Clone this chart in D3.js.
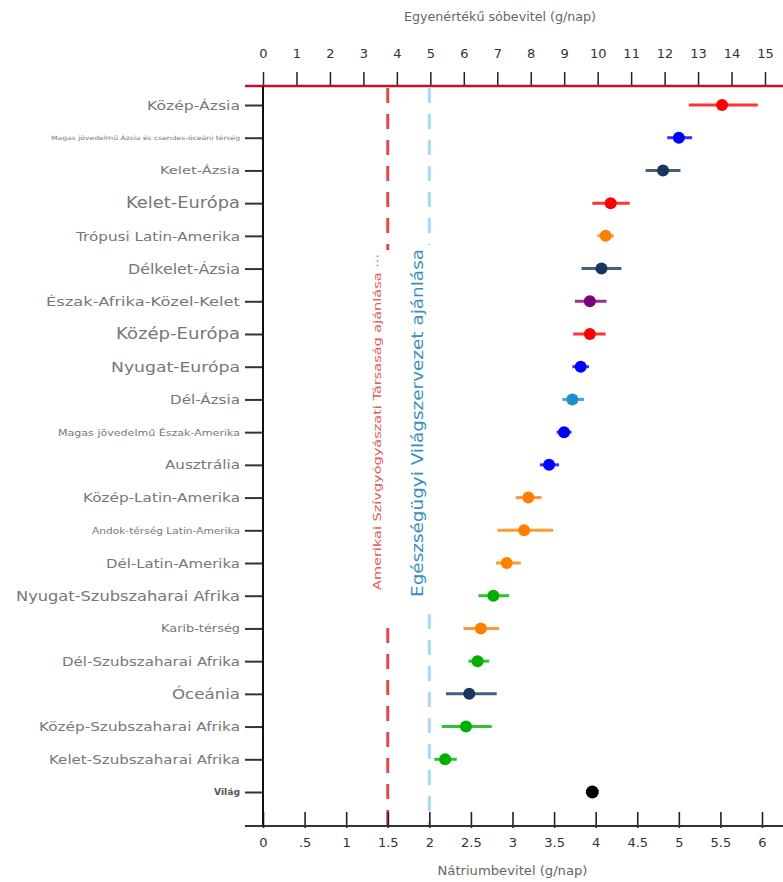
<!DOCTYPE html>
<html><head><meta charset="utf-8">
<script src="https://cdn.jsdelivr.net/npm/d3@7"></script>
<style>body{margin:0;background:#fff}svg{display:block}</style>
</head><body>
<svg id="c" width="783" height="882"></svg>
<script>
// ---------- DATA ----------
const regions = ["Közép-Ázsia","Magas jövedelmű Ázsia és csendes-óceáni térség","Kelet-Ázsia","Kelet-Európa","Trópusi Latin-Amerika","Délkelet-Ázsia","Észak-Afrika-Közel-Kelet","Közép-Európa","Nyugat-Európa","Dél-Ázsia","Magas jövedelmű Észak-Amerika","Ausztrália","Közép-Latin-Amerika","Andok-térség Latin-Amerika","Dél-Latin-Amerika","Nyugat-Szubszaharai Afrika","Karib-térség","Dél-Szubszaharai Afrika","Óceánia","Közép-Szubszaharai Afrika","Kelet-Szubszaharai Afrika","Világ"];
const sodium = [5.52,5.00,4.81,4.18,4.12,4.07,3.93,3.93,3.82,3.72,3.62,3.44,3.19,3.14,2.93,2.77,2.62,2.58,2.48,2.44,2.19,3.96];
const lower  = [5.12,4.86,4.60,3.96,4.02,3.83,3.75,3.73,3.72,3.60,3.53,3.33,3.04,2.82,2.80,2.59,2.41,2.47,2.20,2.15,2.06,null];
const upper  = [5.95,5.16,5.02,4.41,4.22,4.31,4.13,4.12,3.92,3.86,3.71,3.56,3.35,3.49,3.10,2.96,2.84,2.72,2.81,2.75,2.33,null];
const superRegion = ["KEE","HI","SEAO","KEE","LAC","SEAO","NAME","KEE","HI","SA","HI","HI","LAC","LAC","LAC","SSA","LAC","SSA","SEAO","SSA","SSA","W"];
const sodiumTicks = [0,0.5,1,1.5,2,2.5,3,3.5,4,4.5,5,5.5,6];
const sodiumTickLabels = ["0",".5","1","1.5","2","2.5","3","3.5","4","4.5","5","5.5","6"];
const saltTicks = [0,1,2,3,4,5,6,7,8,9,10,11,12,13,14,15];
const ahaLimit = 1.5, whoLimit = 2;
const ahaLabel = "Amerikai Szívgyógyászati Társaság ajánlása ···";
const whoLabel = "Egészségügyi Világszervezet ajánlása";
const topTitle = "Egyenértékű sóbevitel (g/nap)";
const bottomTitle = "Nátriumbevitel (g/nap)";

// ---------- STYLE ----------
const groupColor = d3.scaleOrdinal()
  .domain(["KEE","HI","SEAO","LAC","NAME","SA","SSA","W"])
  .range(["#ff0000","#0000ff","#17375e","#ff8000","#7a007a","#2090c8","#00b000","#000000"]);
const labelStyle = { // font-size, rendered width
  "Közép-Ázsia":[13,93],"Magas jövedelmű Ázsia és csendes-óceáni térség":[6,189],"Kelet-Ázsia":[11,80],
  "Kelet-Európa":[15,114],"Trópusi Latin-Amerika":[13,164],"Délkelet-Ázsia":[14,112],
  "Észak-Afrika-Közel-Kelet":[13,194],"Közép-Európa":[15,124],"Nyugat-Európa":[14,129],
  "Dél-Ázsia":[12,70],"Magas jövedelmű Észak-Amerika":[9.5,182],"Ausztrália":[12,75],
  "Közép-Latin-Amerika":[13,157],"Andok-térség Latin-Amerika":[8.5,148],"Dél-Latin-Amerika":[12.5,134],
  "Nyugat-Szubszaharai Afrika":[14,224],"Karib-térség":[10,79],"Dél-Szubszaharai Afrika":[12.5,178],
  "Óceánia":[14,68],"Közép-Szubszaharai Afrika":[13,201],"Kelet-Szubszaharai Afrika":[12.5,191],"Világ":[9,26]
};
const font = "'DejaVu Sans', sans-serif";

const rows = regions.map((r,i)=>({region:r,v:sodium[i],lo:lower[i],hi:upper[i],g:superRegion[i]}));

const svg = d3.select("#c");
const x = d3.scaleLinear().domain([0,6]).range([263,762]);
const xs = d3.scaleLinear().domain([0,15]).range([263,765]);
const y = d3.scalePoint().domain(regions).range([105,792]);
const yTop = 86, yBottom = 826;

// dashed recommendation lines
function dashed(val, color, gapTop, gapBot){
  [[yTop+2,gapTop],[gapBot,yBottom]].forEach(([a,b])=>{
    svg.append("line").attr("x1",x(val)).attr("x2",x(val)).attr("y1",a).attr("y2",b)
      .attr("stroke",color).attr("stroke-width",3).attr("stroke-dasharray","15,11");
  });
}
dashed(ahaLimit,"#e04a4a",250,628);
dashed(whoLimit,"#acd9f2",245,614);

svg.append("text").attr("transform",`translate(${x(ahaLimit)-10},422) rotate(-90)`)
  .attr("text-anchor","middle").attr("dominant-baseline","middle")
  .attr("font-family",font).attr("font-size",11).attr("fill","#e05a5a")
  .attr("textLength",336).attr("lengthAdjust","spacingAndGlyphs").text(ahaLabel);
svg.append("text").attr("transform",`translate(${x(whoLimit)-11},423) rotate(-90)`)
  .attr("text-anchor","middle").attr("dominant-baseline","middle")
  .attr("font-family",font).attr("font-size",16).attr("fill","#3a8fba")
  .attr("textLength",348).attr("lengthAdjust","spacingAndGlyphs").text(whoLabel);

// top axis (salt)
const ta = svg.append("g").attr("transform",`translate(0,${yTop})`)
  .call(d3.axisTop(xs).tickValues(saltTicks).tickSize(14).tickPadding(14).tickFormat(d3.format("d")));
ta.select(".domain").remove();
ta.selectAll(".tick line").attr("stroke","#222").attr("stroke-width",1.5);
ta.selectAll("text").attr("font-family",font).attr("font-size",13).attr("fill","#333");
svg.append("line").attr("x1",245).attr("x2",783).attr("y1",yTop).attr("y2",yTop)
  .attr("stroke","#c8102e").attr("stroke-width",2.5);

// bottom axis (sodium)
const ba = svg.append("g").attr("transform",`translate(0,${yBottom})`)
  .call(d3.axisBottom(x).tickValues(sodiumTicks).tickSize(0).tickPadding(12)
    .tickFormat((d,i)=>sodiumTickLabels[i]));
ba.select(".domain").remove();
ba.selectAll(".tick line").attr("y1",2).attr("y2",-14).attr("stroke","#222").attr("stroke-width",1.6);
ba.selectAll("text").attr("font-family",font).attr("font-size",13).attr("fill","#333");
svg.append("line").attr("x1",245).attr("x2",783).attr("y1",yBottom).attr("y2",yBottom)
  .attr("stroke","#333").attr("stroke-width",2);

// left axis
const la = svg.append("g").attr("transform",`translate(${x(0)},0)`)
  .call(d3.axisLeft(y).tickSize(18).tickPadding(5));
la.select(".domain").remove();
la.selectAll(".tick line").attr("stroke","#333").attr("stroke-width",2);
la.selectAll("text").attr("font-family",font).attr("fill",d=>d==="Világ"?"#555":"#777")
  .attr("font-size",d=>labelStyle[d][0])
  .attr("textLength",d=>labelStyle[d][1]).attr("lengthAdjust","spacingAndGlyphs")
  .attr("font-weight",d=>d==="Világ"?"bold":"normal");
svg.append("line").attr("x1",x(0)).attr("x2",x(0)).attr("y1",yTop).attr("y2",yBottom)
  .attr("stroke","#111").attr("stroke-width",2);

// titles
svg.append("text").attr("x",500).attr("y",21).attr("text-anchor","middle")
  .attr("font-family",font).attr("font-size",12).attr("fill","#666")
  .attr("textLength",192).attr("lengthAdjust","spacingAndGlyphs").text(topTitle);
svg.append("text").attr("x",(x(0)+x(6))/2).attr("y",875).attr("text-anchor","middle")
  .attr("font-family",font).attr("font-size",12).attr("fill","#666")
  .attr("textLength",150).attr("lengthAdjust","spacingAndGlyphs").text(bottomTitle);

// error bars + points
const pts = svg.append("g");
pts.selectAll("line.err").data(rows.filter(d=>d.lo!=null)).join("line").attr("class","err")
  .attr("x1",d=>x(d.lo)).attr("x2",d=>x(d.hi)).attr("y1",d=>y(d.region)).attr("y2",d=>y(d.region))
  .attr("stroke",d=>groupColor(d.g)).attr("stroke-opacity",0.8).attr("stroke-width",3);
pts.selectAll("circle").data(rows).join("circle")
  .attr("cx",d=>x(d.v)).attr("cy",d=>y(d.region)).attr("r",d=>d.g==="W"?6.5:6)
  .attr("fill",d=>groupColor(d.g));
</script>
</body></html>
